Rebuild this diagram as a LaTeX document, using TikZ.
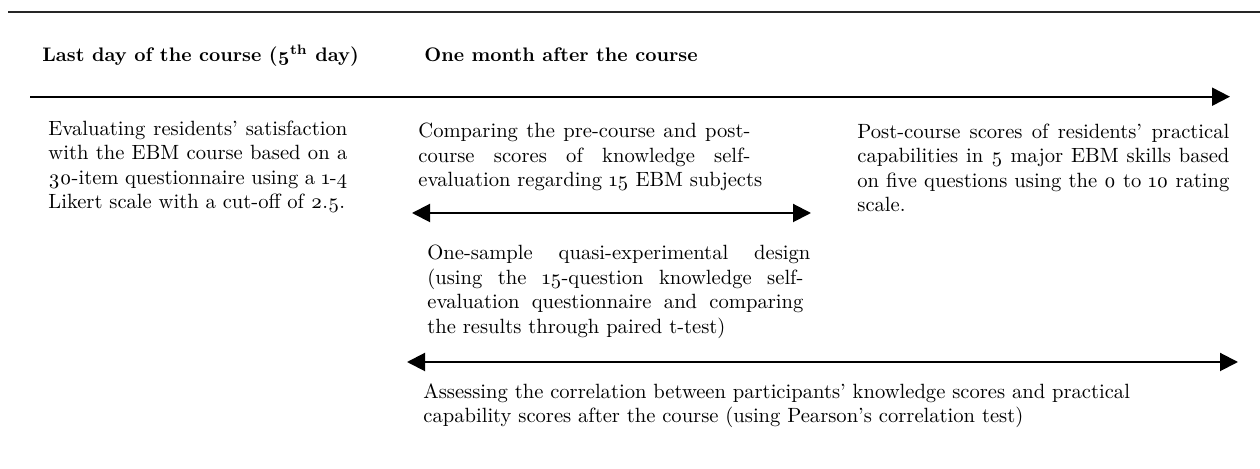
\documentclass[tikz,border=0pt]{standalone}
\usepackage{fontspec}
\setmainfont{Latin Modern Roman}[Numbers=OldStyle]
\usetikzlibrary{arrows.meta}
\newcommand{\jl}[2]{\makebox[#1][s]{#2}}
\begin{document}
\begin{tikzpicture}[x=0.5pt,y=-0.5pt,
  txt/.style={inner sep=0pt,anchor=base west,align=left,
    font=\fontsize{10.3}{12.25}\selectfont},
  head/.style={inner sep=0pt,anchor=base west,
    font=\fontsize{9.8}{12.25}\selectfont\bfseries},
  rule/.style={line width=0.8pt,draw=black!85},
  tline/.style={line width=1pt,draw=black},
  tip/.style={-{Triangle[length=9pt,width=9pt]}},
  dtip/.style={{Triangle[length=9pt,width=9pt]}-{Triangle[length=9pt,width=9pt]}}]
\useasboundingbox (0,0) rectangle (1260,469);
% top rule
\coordinate (r1) at (8,12);
\coordinate (r2) at (1260,12);
\draw[rule] (r1) -- (r2);
% headings
\node[head] (h1) at (42,62) {Last day of the course (5\textsuperscript{th} day)};
\node[head] (h2) at (424,62) {One month after the course};
% timeline
\coordinate (t1) at (30,96.7);
\coordinate (t2) at (1230,96.7);
\draw[tline,tip] (t1) -- (t2);
% left text (anchor at baseline of last line)
\node[txt] (left) at (48,209) {%
\jl{149.5pt}{Evaluating residents’ satisfaction}\\
\jl{149.5pt}{with the EBM course based on a}\\
\jl{149.5pt}{30-item questionnaire using a 1-4}\\
Likert scale with a cut-off of 2.5.};
% middle top text
\node[txt] (mid1) at (418,187) {%
\jl{166pt}{Comparing the pre-course and post-}\\
\jl{166pt}{course scores of knowledge self-}\\
evaluation regarding 15 EBM subjects};
% arrow 1
\coordinate (a1l) at (412,213);
\coordinate (a1r) at (811,213);
\draw[tline,dtip] (a1l) -- (a1r);
% middle bottom text
\node[txt] (mid2) at (427,333.5) {%
\jl{191.5pt}{One-sample quasi-experimental design}\\
\jl{188pt}{(using the 15-question knowledge self-}\\
\jl{188pt}{evaluation questionnaire and comparing}\\
the results through paired t-test)};
% right text
\node[txt] (right) at (857,212) {%
\jl{186pt}{Post-course scores of residents’ practical}\\
\jl{186pt}{capabilities in 5 major EBM skills based}\\
\jl{186pt}{on five questions using the 0 to 10 rating}\\
scale.};
% arrow 2
\coordinate (a2l) at (407,362);
\coordinate (a2r) at (1238,362);
\draw[tline,dtip] (a2l) -- (a2r);
% bottom text
\node[txt] (bot) at (423,423) {%
Assessing the correlation between participants’ knowledge scores and practical\\
capability scores after the course (using Pearson’s correlation test)};
\end{tikzpicture}
\end{document}
